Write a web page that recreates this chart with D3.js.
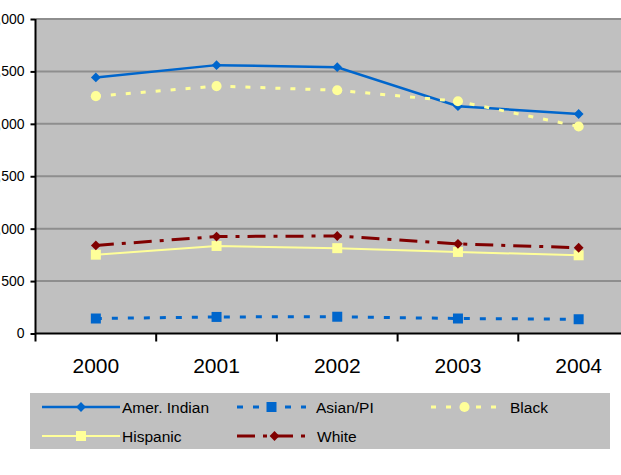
<!DOCTYPE html>
<html>
<head>
<meta charset="utf-8">
<title>Chart</title>
<style>
  body { margin: 0; background: #fff; }
  svg { display: block; font-family: "Liberation Sans", Arial, sans-serif; }
</style>
</head>
<body>
<div id="chart"></div>
<script src="https://cdn.jsdelivr.net/npm/d3@7"></script>
<script>
// data
const years = ["2000", "2001", "2002", "2003", "2004"];
const amerIndian = [2443, 2560, 2540, 2168, 2094];
const asianPI = [143, 158, 160, 143, 136];
const black = [2264, 2360, 2320, 2215, 1975];
const hispanic = [752, 835, 814, 778, 746];
const white = [840, 925, 930, 855, 818];
const yTicks = [0, 500, 1000, 1500, 2000, 2500, 3000];

const width = 621, height = 475;
const plot = { left: 35.5, top: 19, bottom: 333.5, band: 120.7 };

const series = [
  { name: "Amer. Indian", values: amerIndian, color: "#0066cc", width: 2.5, dash: null, marker: "diamond", msize: 80 },
  { name: "Asian/PI", values: asianPI, color: "#0066cc", width: 3, dash: "6,10", marker: "square", msize: 100 },
  { name: "Black", values: black, color: "#ffff99", width: 3, dash: "5,10", marker: "circle", msize: 80 },
  { name: "Hispanic", values: hispanic, color: "#ffff99", width: 2, dash: null, marker: "square", msize: 100 },
  { name: "White", values: white, color: "#800000", width: 3, dash: "18,8,4,8", marker: "diamond", msize: 80 }
];

const svg = d3.select("#chart").append("svg")
  .attr("width", width)
  .attr("height", height)
  .style("overflow", "hidden");

const x = d3.scaleBand()
  .domain(years)
  .range([plot.left, plot.left + plot.band * years.length]);
const y = d3.scaleLinear()
  .domain([0, 3000])
  .range([plot.bottom, plot.top]);
const cx = d => x(d) + x.bandwidth() / 2;

// plot area background
svg.append("rect")
  .attr("x", plot.left)
  .attr("y", y(3000))
  .attr("width", width - plot.left)
  .attr("height", y(0) - y(3000))
  .attr("fill", "#c0c0c0");

// gridlines
svg.selectAll(".grid")
  .data(yTicks.filter(d => d > 0))
  .enter().append("line")
  .attr("class", "grid")
  .attr("x1", plot.left)
  .attr("x2", width)
  .attr("y1", d => y(d))
  .attr("y2", d => y(d))
  .attr("stroke", "#8e8e8e")
  .attr("stroke-width", 2);

// y axis
const yAxis = svg.append("g")
  .attr("transform", `translate(${plot.left},0)`)
  .call(d3.axisLeft(y).tickValues(yTicks).tickSize(5).tickPadding(6));
yAxis.select(".domain")
  .attr("d", `M0,${y(3000)}V${plot.bottom + 8}`)
  .attr("stroke", "#000").attr("stroke-width", 2);
yAxis.selectAll(".tick line").attr("stroke", "#000").attr("stroke-width", 2);
yAxis.selectAll(".tick text")
  .style("font-size", "14px")
  .attr("fill", "#000");

// x axis
const xAxis = svg.append("g")
  .attr("transform", `translate(0,${plot.bottom})`)
  .call(d3.axisBottom(x).tickSize(0).tickPadding(25));
xAxis.select(".domain")
  .attr("d", `M${plot.left},0H${width}`)
  .attr("stroke", "#000").attr("stroke-width", 2);
xAxis.selectAll(".tick text")
  .style("font-size", "21px")
  .attr("fill", "#000");
xAxis.selectAll(".bound")
  .data(years.slice(1))
  .enter().append("line")
  .attr("class", "bound")
  .attr("x1", d => x(d)).attr("x2", d => x(d))
  .attr("y1", 0).attr("y2", 8)
  .attr("stroke", "#000").attr("stroke-width", 2);

function symbolFor(s) {
  const type = s.marker === "diamond" ? d3.symbolDiamond2
    : s.marker === "square" ? d3.symbolSquare : d3.symbolCircle;
  if (s.marker === "diamond") {
    return d3.symbol().type(d3.symbolSquare).size(s.msize * 0.6)();
  }
  return d3.symbol().type(type).size(s.msize)();
}

const line = d3.line()
  .x((d, i) => cx(years[i]))
  .y(d => y(d));

// series lines and markers
series.forEach(s => {
  svg.append("path")
    .attr("d", line(s.values))
    .attr("fill", "none")
    .attr("stroke", s.color)
    .attr("stroke-width", s.width)
    .attr("stroke-dasharray", s.dash);
  svg.selectAll(null)
    .data(s.values)
    .enter().append("path")
    .attr("d", symbolFor(s))
    .attr("transform", (d, i) => `translate(${cx(years[i])},${y(d)})` + (s.marker === "diamond" ? " rotate(45)" : ""))
    .attr("fill", s.color);
});

// legend
const legend = svg.append("g");
legend.append("rect")
  .attr("x", 30).attr("y", 393)
  .attr("width", 580).attr("height", 56)
  .attr("fill", "#c0c0c0");

const legendPos = [
  { x1: 42, x2: 120, tx: 122, y: 407 },
  { x1: 237, x2: 306, tx: 316, y: 407 },
  { x1: 431, x2: 498, tx: 510, y: 407 },
  { x1: 42, x2: 120, tx: 122, y: 436 },
  { x1: 237, x2: 312, tx: 317, y: 436 }
];

series.forEach((s, i) => {
  const p = legendPos[i];
  const g = legend.append("g");
  g.append("line")
    .attr("x1", p.x1).attr("x2", p.x2)
    .attr("y1", p.y).attr("y2", p.y)
    .attr("stroke", s.color)
    .attr("stroke-width", s.width)
    .attr("stroke-dasharray", s.dash);
  g.append("path")
    .attr("d", symbolFor(s))
    .attr("transform", `translate(${(p.x1 + p.x2) / 2},${p.y})` + (s.marker === "diamond" ? " rotate(45)" : ""))
    .attr("fill", s.color);
  g.append("text")
    .attr("x", p.tx)
    .attr("y", p.y)
    .attr("dy", "0.36em")
    .style("font-size", "15.5px")
    .attr("fill", "#000")
    .text(s.name);
});
</script>
</body>
</html>
